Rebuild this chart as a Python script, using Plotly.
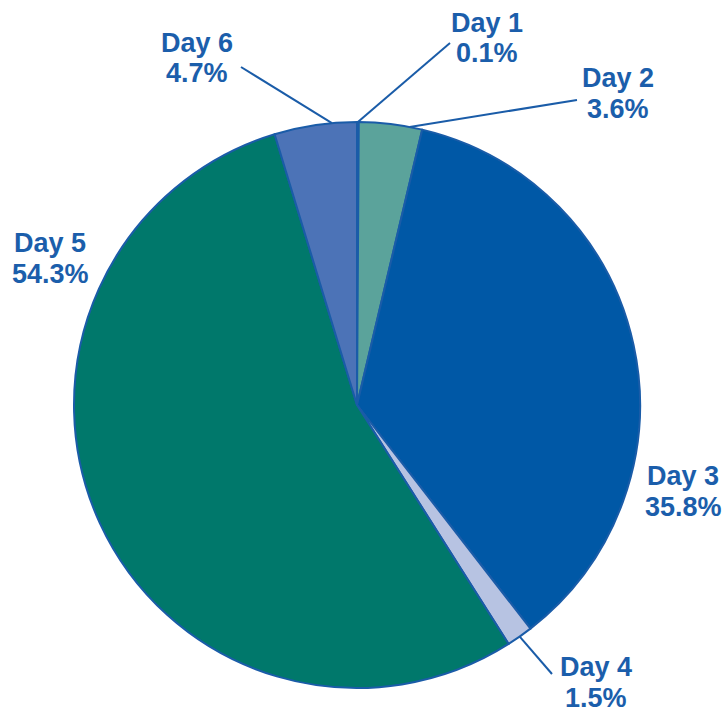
import math
import plotly.graph_objects as go

days = ["Day 1", "Day 2", "Day 3", "Day 4", "Day 5", "Day 6"]
shares = [0.1, 3.6, 35.8, 1.5, 54.3, 4.7]
colors = ["#FFFFFF", "#5BA39B", "#0058A6", "#B7C3E2", "#00786B", "#4C73B7"]

W, H = 725, 714
CX, CY, R = 357, 405, 283  # pie centre / radius in pixels
TEXT = "#1B5EAB"
LINE_GAP = 31

# label anchor (pixel centre) and leader end (None if no leader)
label_pos = [(487, 38), (618, 93), (683, 491), (596, 682), (50, 258), (197, 58)]
leader_end = [(450, 43), (577, 100), None, (552, 674), None, (241, 67)]
# where along each slice (fraction of its angle) the leader touches the rim
leader_frac = [0.5, 0.8, 0.5, 0.5, 0.5, 0.7]

fig = go.Figure(go.Pie(
    labels=days, values=shares, sort=False, direction="clockwise", rotation=0,
    marker=dict(colors=colors, line=dict(color="#1A5CA8", width=2)),
    textinfo="none", hoverinfo="label+percent", showlegend=False,
    domain=dict(x=[(CX - R) / W, (CX + R) / W], y=[(H - CY - R) / H, (H - CY + R) / H]),
))

total = sum(shares)
cum = 0.0
shapes, annotations = [], []
font = dict(family="Liberation Sans, Arial, sans-serif", size=27, color=TEXT)
for d, v, lp, le, fr in zip(days, shares, label_pos, leader_end, leader_frac):
    mid = (cum + v * fr) / total * 2 * math.pi
    cum += v
    sx, sy = CX + R * math.sin(mid), CY - R * math.cos(mid)
    if le is not None:
        shapes.append(dict(type="line", xref="paper", yref="paper",
                           x0=sx / W, y0=1 - sy / H, x1=le[0] / W, y1=1 - le[1] / H,
                           line=dict(color="#1A5CA8", width=2)))
    for k, t in enumerate([d, f"{v:.1f}%"]):
        yy = lp[1] + (k - 0.5) * LINE_GAP
        annotations.append(dict(x=lp[0] / W, y=1 - yy / H, xref="paper", yref="paper",
                                text=f"<b>{t}</b>", showarrow=False,
                                xanchor="center", yanchor="middle", font=font))

fig.update_layout(width=W, height=H, margin=dict(l=0, r=0, t=0, b=0),
                  paper_bgcolor="white", plot_bgcolor="white",
                  shapes=shapes, annotations=annotations)
fig.write_html("out.html", config={"displayModeBar": False},
               post_script="document.body.style.margin='0';document.body.style.padding='0';")
